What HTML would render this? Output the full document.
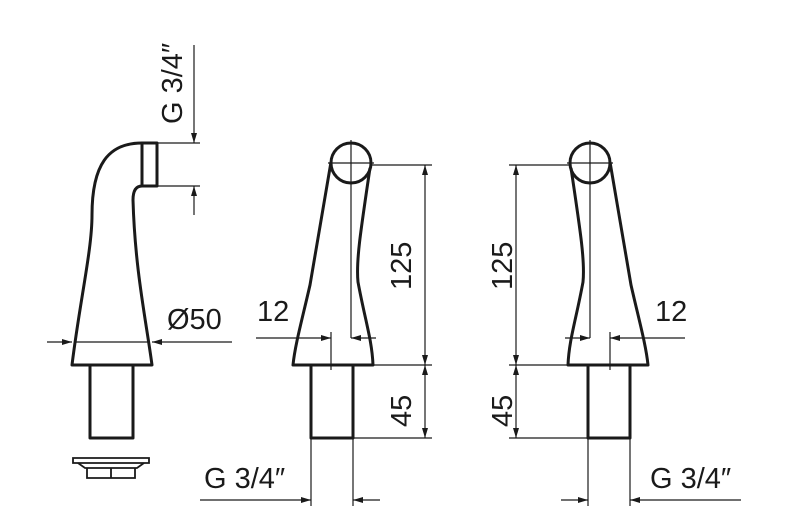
<!DOCTYPE html>
<html><head><meta charset="utf-8"><style>
html,body{margin:0;padding:0;background:#fff;}
svg{display:block;}
text{font-family:"Liberation Sans","DejaVu Sans",sans-serif;fill:#1a1a1a;}
</style></head><body>
<svg width="800" height="531" viewBox="0 0 800 531" xmlns="http://www.w3.org/2000/svg">
<defs>
<marker id="a" viewBox="0 0 10 6" refX="10" refY="3" markerWidth="11" markerHeight="6" markerUnits="userSpaceOnUse" orient="auto"><path d="M0,0 L10,3 L0,6 z" fill="#1a1a1a"/></marker>
</defs>
<g fill="none" stroke="#1a1a1a">
<!-- Figure 1 -->
<g stroke-width="3" stroke-linejoin="round">
<path d="M72,365 C80,300 92,250 92,215 C92,165 108,143 142,143 L157,143 L157,186 L142,186 C135,186 133,192 133,200 C135,270 146,320 152,365 Z"/>
<line x1="142" y1="143" x2="142" y2="186"/>
<path d="M90,365 L90,438 L133,438 L133,365"/>
</g>
<g stroke-width="1.2">
<line x1="74" y1="342" x2="150" y2="342"/>
<line x1="157" y1="143" x2="200" y2="143"/><line x1="157" y1="186" x2="200" y2="186"/>
<line x1="194" y1="45" x2="194" y2="143" marker-end="url(#a)"/>
<line x1="194" y1="215" x2="194" y2="186" marker-end="url(#a)"/>
<line x1="47" y1="342" x2="72" y2="342" marker-end="url(#a)"/>
<line x1="232" y1="342" x2="152" y2="342" marker-end="url(#a)"/>
</g>
<!-- nut -->
<g stroke-width="1.8">
<path d="M73,458 L149,458 L149,463 L73,463 Z"/>
<path d="M78,463 L85,468 L137,468 L144,463"/>
<path d="M87,468 L87,478 L135,478 L135,468"/>
<line x1="111" y1="468" x2="111" y2="478"/>
</g>
<!-- Figure 2 and mirrored figure 3 -->
<g id="f2">
<g stroke-width="3" stroke-linejoin="round">
<circle cx="351" cy="163" r="20"/>
<path d="M331,162 L310,285 C302,320 295,345 293,365 L373,365 C372,340 365,320 358,282 C356,262 360,235 370,168"/>
<path d="M311,365 L311,438 L353,438 L353,365"/>
</g>
<g stroke-width="1.2">
<line x1="351" y1="140" x2="351" y2="338"/>
<line x1="328" y1="163" x2="374" y2="163"/>
<line x1="372" y1="165" x2="432" y2="165"/>
<line x1="373" y1="365" x2="432" y2="365"/>
<line x1="353" y1="438" x2="432" y2="438"/>
<line x1="425" y1="265" x2="425" y2="165" marker-end="url(#a)"/>
<line x1="425" y1="265" x2="425" y2="365" marker-end="url(#a)"/>
<line x1="425" y1="400" x2="425" y2="365" marker-end="url(#a)"/>
<line x1="425" y1="400" x2="425" y2="438" marker-end="url(#a)"/>
<line x1="256" y1="338" x2="331" y2="338" marker-end="url(#a)"/>
<line x1="376" y1="338" x2="351" y2="338" marker-end="url(#a)"/>
<line x1="331" y1="332" x2="331" y2="370"/>
<line x1="311" y1="438" x2="311" y2="506"/>
<line x1="353" y1="438" x2="353" y2="506"/>
<line x1="200" y1="500" x2="311" y2="500" marker-end="url(#a)"/>
<line x1="380" y1="500" x2="353" y2="500" marker-end="url(#a)"/>
</g>
</g>
<use href="#f2" transform="translate(941,0) scale(-1,1)"/>
</g>
<g font-size="29">
<text transform="translate(182,124) rotate(-90)">G 3/4″</text>
<text x="167" y="329">Ø50</text>
<text x="257" y="321">12</text>
<text transform="translate(411,290) rotate(-90)">125</text>
<text transform="translate(411,427) rotate(-90)">45</text>
<text x="204" y="488">G 3/4″</text>
<text x="655" y="321">12</text>
<text transform="translate(512,290) rotate(-90)">125</text>
<text transform="translate(512,427) rotate(-90)">45</text>
<text x="650" y="488">G 3/4″</text>
</g>
</svg>
</body></html>
